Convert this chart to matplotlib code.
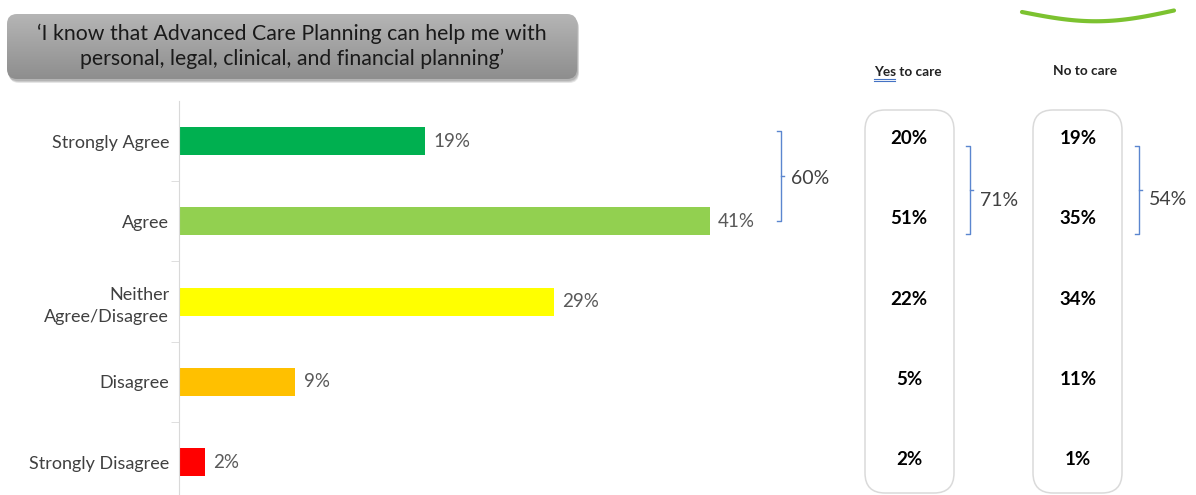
import numpy as np
import matplotlib.pyplot as plt
from matplotlib.patches import FancyBboxPatch
from matplotlib.colors import LinearSegmentedColormap

plt.rcParams['font.family'] = ['Lato', 'DejaVu Sans']

categories = ['Strongly Agree', 'Agree', 'Neither\nAgree/Disagree', 'Disagree', 'Strongly Disagree']
overall = [19, 41, 29, 9, 2]
yes_care = [20, 51, 22, 5, 2]
no_care = [19, 35, 34, 11, 1]
colors = ['#00b050', '#92d050', '#ffff00', '#ffc000', '#ff0000']
title = '\u2018I know that Advanced Care Planning can help me with\npersonal, legal, clinical, and financial planning\u2019'

W, H = 1196, 495
fig = plt.figure(figsize=(W / 100, H / 100), dpi=100)
fig.patch.set_facecolor('white')

# full-figure overlay in pixel units for the decorations
ov = fig.add_axes([0, 0, 1, 1])
ov.set_xlim(0, W)
ov.set_ylim(H, 0)
ov.axis('off')

# title banner with a vertical grey gradient and a soft shadow
for off, a in ((4, 0.25), (3, 0.35), (2, 0.45)):
    ov.add_patch(FancyBboxPatch((7 + off * 0.5, 14 + off), 570, 65,
                                boxstyle='round,pad=0,rounding_size=10',
                                facecolor='#9a9a9a', edgecolor='none', alpha=a))
banner = FancyBboxPatch((7, 14), 570, 65, boxstyle='round,pad=0,rounding_size=10',
                        facecolor='none', edgecolor='none')
ov.add_patch(banner)
grad = np.linspace(0, 1, 100).reshape(-1, 1)
gcmap = LinearSegmentedColormap.from_list('g', ['#b5b5b5', '#8e8e8e'])
im = ov.imshow(grad, cmap=gcmap, extent=(7, 577, 79, 14), aspect='auto', zorder=2)
im.set_clip_path(banner)
ov.text(292, 46.5, title, ha='center', va='center', fontsize=15.3, color='#1a1a1a',
        linespacing=1.3, zorder=3)

# green swoosh in the corner
t = np.linspace(0, 1, 60)
sx = 1022 + 152 * t
sy = 12 + 10 * np.sin(np.pi * t) - 1.5 * t
ov.plot(sx, sy, color='#7cc230', lw=3, solid_capstyle='round')

# column headers
ov.text(908, 72, 'Yes to care', ha='center', va='center', fontsize=9.8, fontweight='bold', color='#222222')
ov.text(1085, 71, 'No to care', ha='center', va='center', fontsize=9.8, fontweight='bold', color='#222222')
ov.plot([874, 895], [78.5, 78.5], color='#4472c4', lw=0.8)
ov.plot([874, 895], [80.5, 80.5], color='#4472c4', lw=0.8)

# rounded outlines around each column
for x0 in (865, 1033):
    ov.add_patch(FancyBboxPatch((x0, 110), 89, 383, boxstyle='round,pad=0,rounding_size=20',
                                facecolor='none', edgecolor='#dadada', lw=1.1))

# main bar chart
ax = fig.add_axes([179 / W, 0, 647 / W, 394 / H])
ax.patch.set_alpha(0)
y = np.arange(len(categories))
ax.barh(y, overall, height=0.35, color=colors)
ax.set_xlim(0, 50)
ax.set_ylim(4.41, -0.5)
ax.set_yticks(y)
ax.set_yticklabels(categories, fontsize=13, color='#404040', linespacing=1.45)
ax.set_yticks(y[:-1] + 0.5, minor=True)
ax.tick_params(axis='y', which='major', length=0, pad=7)
ax.tick_params(axis='y', which='minor', length=6, color='#d9d9d9')
ax.set_xticks([])
for s in ['top', 'right', 'bottom']:
    ax.spines[s].set_visible(False)
ax.spines['left'].set_color('#d9d9d9')
for yi, v in zip(y, overall):
    ax.annotate(f'{v}%', (v, yi), xytext=(6, 0), textcoords='offset points',
                ha='left', va='center', fontsize=13.5, color='#595959')

# side columns share the category axis
ax2 = fig.add_axes([0, 0, 1, 394 / H], sharey=ax)
ax2.patch.set_alpha(0)
ax2.set_xlim(0, W)
ax2.axis('off')
for yi, a, b in zip(y, yes_care, no_care):
    ax2.text(909, yi - 0.03, f'{a}%', ha='center', va='center', fontsize=13.5, fontweight='bold', color='black')
    ax2.text(1078, yi - 0.03, f'{b}%', ha='center', va='center', fontsize=13.5, fontweight='bold', color='black')


def bracket(axis, x, y0, y1, total, dy=0.0):
    c = '#5b86cf'
    axis.plot([x - 4, x, x, x - 4], [y0, y0, y1, y1], color=c, lw=1)
    ym = (y0 + y1) / 2
    axis.plot([x, x + 3], [ym, ym], color=c, lw=1)
    axis.text(x + 10, ym + dy, f'{total}%', ha='left', va='center', fontsize=14, color='#404040')


bracket(ax2, 781, -0.12, 0.99, sum(overall[:2]), 0.03)
bracket(ax2, 970, 0.06, 1.16, sum(yes_care[:2]), 0.13)
bracket(ax2, 1139, 0.06, 1.16, sum(no_care[:2]), 0.12)

fig.savefig('out.png', dpi=100)
